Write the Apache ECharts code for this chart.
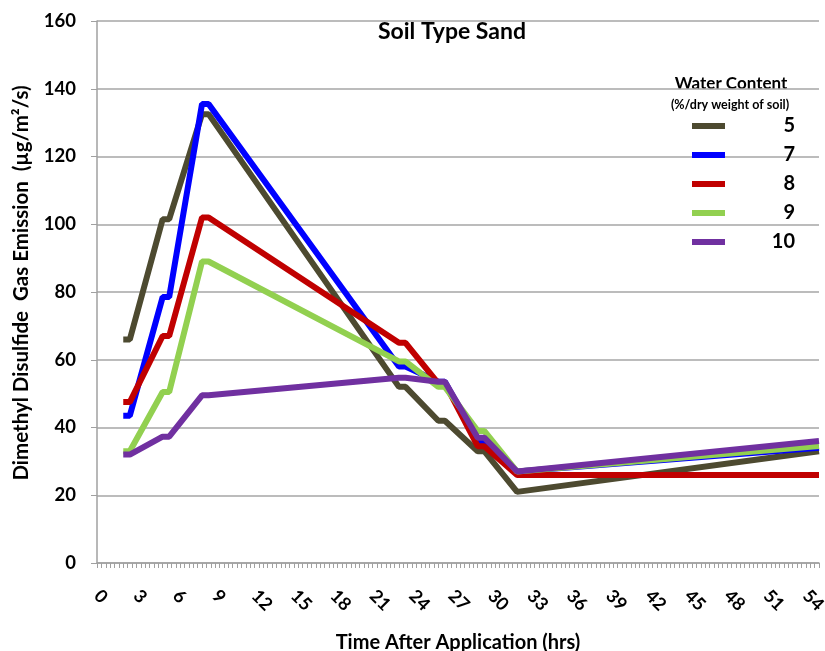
<!DOCTYPE html>
<html lang="en" style="height: 100%">
<head>
  <meta charset="utf-8">
</head>
<body style="height: 100%; margin: 0">
  <div id="container" style="width: 825px; height: 651px"></div>

  <script type="text/javascript" src="https://fastly.jsdelivr.net/npm/echarts@6/dist/echarts.min.js"></script>
  <script type="text/javascript">
    var dom = document.getElementById('container');
    var myChart = echarts.init(dom, null, { renderer: 'canvas' });

    // hours after application
    var hours = [2, 2.5, 5, 5.5, 8, 8.5, 23, 23.5, 26, 26.5, 29, 29.5, 32, 55];

    // water content (%/dry weight of soil)
    var wc5  = [66, 66, 101.5, 101.5, 132.5, 132.5, 52, 52, 42, 42, 33, 33, 21, 33];
    var wc7  = [43.5, 43.5, 78.5, 78.5, 135.5, 135.5, 58, 58, 53.5, 53.5, 36, 36, 27, 34];
    var wc8  = [47.5, 47.5, 67, 67, 102, 102, 65, 65, 53, 53, 34.5, 34.5, 26, 26];
    var wc9  = [33, 33, 50.5, 50.5, 89, 89, 59.5, 59.5, 52, 52, 39, 39, 27, 34.5];
    var wc10 = [32, 32, 37.3, 37.3, 49.5, 49.5, 54.7, 54.7, 53.5, 53.5, 37, 37, 27, 36];

    var seriesNames = ['5', '7', '8', '9', '10'];
    var seriesValues = [wc5, wc7, wc8, wc9, wc10];
    var colors = ['#4d4a30', '#0000ff', '#c00000', '#92d050', '#7030a0'];

    var font = 'Lato, "Open Sans", sans-serif';

    function pairs(vals) {
      return hours.map(function (h, i) { return [h, vals[i]]; });
    }

    var option = {
      animation: false,
      color: colors,
      title: {
        text: 'Soil Type Sand',
        left: 447,
        top: 15,
        textAlign: 'center',
        textStyle: { fontFamily: font, fontSize: 23, fontWeight: 'bold', color: '#000' }
      },
      graphic: [
        {
          type: 'text', x: 731, y: 84,
          style: {
            text: 'Water Content', font: 'bold 17px ' + font, fill: '#000',
            textAlign: 'center', textVerticalAlign: 'middle'
          }
        },
        {
          type: 'text', x: 730, y: 105,
          style: {
            text: '(%/dry weight of soil)', font: 'bold 12.5px ' + font, fill: '#000',
            textAlign: 'center', textVerticalAlign: 'middle'
          }
        },
        {
          type: 'text', x: 21, y: 283, rotation: Math.PI / 2,
          style: {
            text: 'Dimethyl Disulfide  Gas Emission  (µg/m²/s)', font: 'bold 20.5px ' + font, fill: '#000',
            textAlign: 'center', textVerticalAlign: 'middle'
          }
        }
      ],
      legend: {
        orient: 'vertical',
        left: 687,
        top: 111,
        itemWidth: 33,
        itemHeight: 6,
        itemGap: 9,
        icon: 'rect',
        data: seriesNames,
        formatter: '{a|{name}}',
        textStyle: {
          fontFamily: font, fontSize: 20, fontWeight: 'bold', color: '#000',
          rich: {
            a: {
              width: 65, align: 'right', lineHeight: 21,
              fontFamily: font, fontSize: 20, fontWeight: 'bold', color: '#000'
            }
          }
        }
      },
      grid: { left: 97, right: 6, top: 21, bottom: 88, outerBoundsMode: 'none' },
      xAxis: {
        type: 'value',
        min: 0,
        max: 55,
        interval: 3,
        name: 'Time After Application (hrs)',
        nameLocation: 'middle',
        nameGap: 70,
        nameTextStyle: { fontFamily: font, fontSize: 20, fontWeight: 'bold', color: '#000' },
        axisLine: { lineStyle: { color: '#a0a0a0', width: 1.5 } },
        axisTick: { show: true, length: 5, lineStyle: { color: '#a0a0a0' } },
        minorTick: { show: true, splitNumber: 9, length: 5, lineStyle: { color: '#a0a0a0' } },
        splitLine: { show: false },
        axisLabel: {
          rotate: -45,
          showMaxLabel: false,
          margin: 30,
          fontFamily: font, fontSize: 18, fontWeight: 'bold', color: '#000'
        }
      },
      yAxis: {
        type: 'value',
        min: 0,
        max: 160,
        interval: 20,
        axisLine: { show: true, lineStyle: { color: '#a0a0a0', width: 1.5 } },
        axisTick: { show: true, length: 6, lineStyle: { color: '#a0a0a0' } },
        splitLine: { lineStyle: { color: '#a6a6a6', width: 1.5 } },
        axisLabel: { margin: 21, fontFamily: font, fontSize: 18.5, fontWeight: 'bold', color: '#000' }
      },
      series: seriesNames.map(function (name, i) {
        return {
          name: name,
          type: 'line',
          showSymbol: false,
          symbol: 'none',
          data: pairs(seriesValues[i]),
          lineStyle: { width: 6, color: colors[i] }
        };
      })
    };

    myChart.setOption(option);
    window.addEventListener('resize', myChart.resize);
  </script>
</body>
</html>
